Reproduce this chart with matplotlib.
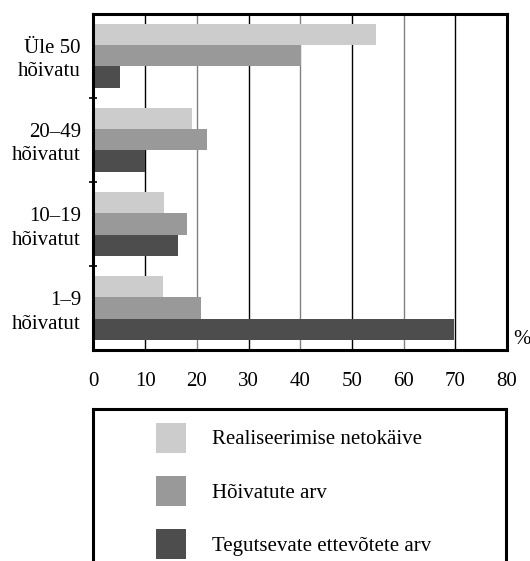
import matplotlib.pyplot as plt
import numpy as np

plt.rcParams['font.family'] = ['Liberation Serif', 'DejaVu Serif']

groups = ["1–9\nhõivatut", "10–19\nhõivatut", "20–49\nhõivatut", "Üle 50\nhõivatu"]
series = ["Realiseerimise netokäive", "Hõivatute arv", "Tegutsevate ettevõtete arv"]
netokaive = [13.4, 13.6, 19.1, 54.7]
hoivatud = [20.8, 18.1, 21.9, 40.2]
ettevotted = [69.7, 16.4, 10.0, 5.1]
colors = ["#cccccc", "#999999", "#4d4d4d"]
xticks = [0, 10, 20, 30, 40, 50, 60, 70, 80]

fig = plt.figure(figsize=(5.3, 5.61), dpi=100)
ax = fig.add_axes([0.1764, 0.3761, 0.9566 - 0.1764, 0.9759 - 0.3761])

y = np.arange(len(groups))
h = 0.254
bars = []
for i, (vals, c) in enumerate(zip([netokaive, hoivatud, ettevotted], colors)):
    b = ax.barh(y + (1 - i) * h, vals, height=h, color=c, edgecolor="none", zorder=2)
    bars.append(b)

ax.set_xlim(0, 80)
ax.set_ylim(-0.5, 3.5)
ax.set_xticks(xticks)
ax.set_xticklabels([str(t) for t in xticks], fontsize=15)
ax.tick_params(axis="x", length=0, pad=15.5)
ax.set_yticks(y)
ax.set_yticklabels(groups, fontsize=15, ha="right", linespacing=1.3)
ax.tick_params(axis="y", which="major", length=0, pad=9)
ax.set_yticks([0.5, 1.5, 2.5], minor=True)
ax.tick_params(axis="y", which="minor", direction="inout", length=6, width=1.2)

ax.set_axisbelow(True)
ax.grid(axis="x", linewidth=1.0, zorder=0)
for k, gl in enumerate(ax.get_xgridlines()):
    gl.set_color("black" if k % 2 == 1 else "#808080")
for s in ax.spines.values():
    s.set_linewidth(2.2)

fig.text(513 / 530, 1 - 340 / 561, "%", fontsize=15, ha="left", va="center")

# legend box
lax = fig.add_axes([93.3 / 530, 1 - 620 / 561, (506 - 93.3) / 530, (620 - 409.3) / 561])
lax.set_xticks([])
lax.set_yticks([])
for s in lax.spines.values():
    s.set_linewidth(2.2)
fs = 15
px = fs * 100 / 72
fig.legend(bars, series, loc="upper left", frameon=False, fontsize=fs,
           bbox_to_anchor=(156 / 530, 1 - 422.7 / 561), bbox_transform=fig.transFigure,
           borderpad=0, borderaxespad=0, handlelength=30 / px, handleheight=1.84,
           handletextpad=(211.7 - 186) / px, labelspacing=(53.2 - 30) / px)

fig.savefig("out.png", dpi=100)
